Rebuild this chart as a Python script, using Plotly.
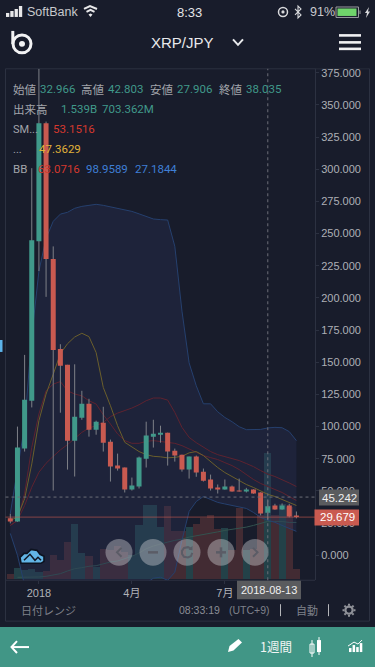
import pandas as pd
import plotly.graph_objects as go

dates = pd.date_range("2017-12-04", periods=41, freq="7D").strftime("%Y-%m-%d").tolist()

opens = [28.7,26.3,82.9,120,244,335.6,230.3,160.3,148,89,106.9,117.7,97.6,103,88.3,69.7,68.2,51.1,53.4,75.1,92.2,93.7,95.3,81.3,78.2,66.6,76.7,65,58.9,52.7,51.1,53.4,50.3,49.6,51.1,48.8,32.966,38.7,35.6,38.7,31]
highs = [32.3,100,155.7,300.8,378,337,240,164,148,148.4,127.8,121.6,104.6,115.4,89.9,79,68.2,60.4,76.7,103.8,105.3,100.7,95.3,82.9,78.2,76.7,77.5,67.4,62.7,55,58.9,54.2,59.6,52.4,51.3,49,42.803,40,40.3,40,34]
lows = [24.8,26,80.6,114.9,220.8,200.8,50.3,110.8,66.6,61.2,105.3,92.2,93.7,80.6,57.3,65.8,48.8,50.3,51.9,68.2,83.7,87.5,69.7,72.8,65,59.6,61,57.3,50.3,48,51,49.4,49.5,48.8,47.8,31,27.906,35.4,35.4,29.5,28.7]
closes = [26.3,83.7,120.8,244.8,335.6,230.3,159.6,147.2,89,107.7,117.7,97.6,103.8,87.5,68.9,67.4,51.1,54.2,75.9,93,94.5,95.3,80.6,77.5,66.6,76.7,64.3,58,51.9,51.1,53.4,49.6,49.6,51.1,48,32.5,38.035,35.6,38.7,30.2,29.679]

volumes_m = [61,133,118,121,85,97,291,230,448,667,315,279,145,364,352,400,327,291,655,897,897,630,885,582,582,630,675,739,776,606,618,352,861,352,364,776,1539,776,917,873,121]
volume_ma_m = [None,24,24,28,28,36,52,68,101,128,141,158,165,189,210,222,250,279,319,371,404,431,452,473,488,513,527,545,558,576,594,606,618,634,655,679,703.362,703,703,691,691]

bb_upper = [32.5,65.8,100.7,170.4,220.8,246.3,259.5,265.1,266.5,269.6,271.1,271.9,272.7,271.9,270.7,269.6,268.4,267.2,265.3,263.4,261.3,260.8,260.5,240.1,189.8,149.5,131.7,117.7,117.7,111.5,107.1,103.8,99.9,97.6,97.6,97.8,98.9589,99.4,99.1,96.1,89.1]
bb_lower = [17,0,-23.2,-64.3,-91.4,-103,-105.3,-101.5,-94.5,-89.1,-79.8,-74.4,-71.3,-65.1,-55.8,-48.8,-43.4,-38.7,-31,-21.7,-17.8,-17,-19.4,-13.2,11.6,34.1,41.8,45.7,43.4,41.1,39.9,38.7,38,36.4,33.3,29.4,27.1844,25.6,23.2,20.9,18.6]
bb_mid = [23.2,27.1,38.7,52.9,64.5,71.5,76.9,81.9,86,90.4,95.5,98.9,100.7,103.3,107.7,110.5,112.3,114.4,117,120.1,122.2,122.2,120.6,111,99.4,91.6,87.5,83.7,80.6,78.2,76.7,75.1,73.6,71.3,68.9,65.8,63.0716,61.2,58.9,56.2,53.4]
sma_red = [23.2,27.1,48,83.9,109.8,127.8,133,135,127.8,125.3,123.9,120.1,117.5,109.2,102,94.3,89.1,87,87,88.5,89.1,88.5,87.8,87,85.2,82.7,79.8,77.5,75.9,74.4,72,69.7,66.6,62.7,58.9,55.8,53.1516,51.1,48.8,45.7,42.6]
sma_olive = [27.1,29.7,43.9,71,104.6,125.3,140.7,156.7,164.4,169.6,172.5,169.9,157.5,130.4,116.2,100.7,87.8,83.9,80.6,78.2,76.9,76.5,75.7,76.1,76.9,79.6,80.6,77.5,72.8,68.2,64.3,61.2,58.1,55,52.7,50,47.3629,45.7,43.4,41.1,38.7]

x_tick_vals = ["2018-01-01", "2018-04-02", "2018-07-02"]
x_tick_text = ["2018", "4月", "7月"]
crosshair_date = "2018-08-13"
crosshair_price = 45.242
last_price = 29.679

BG = "#181c2b"
FRAME = "#2c3141"
GREEN = "#40998a"
RED = "#c95a50"
TXT = "#a2a4aa"
CJK = "Noto Sans CJK JP"
NUM = "Roboto"

fx = lambda x: x / 375
fy = lambda y: 1 - y / 667
shapes, annos = [], []

def rect(x0, y0, x1, y1, fill, line=None, lw=0, layer="above"):
    shapes.append(dict(type="rect", xref="paper", yref="paper", x0=fx(x0), x1=fx(x1), y0=fy(y0), y1=fy(y1),
                       fillcolor=fill, line=dict(color=line or "rgba(0,0,0,0)", width=lw), layer=layer))

def seg(x0, y0, x1, y1, color, lw=1, dash="solid", layer="above"):
    shapes.append(dict(type="line", xref="paper", yref="paper", x0=fx(x0), x1=fx(x1), y0=fy(y0), y1=fy(y1),
                       line=dict(color=color, width=lw, dash=dash), layer=layer))

def circ(cx, cy, r, fill, line=None, lw=0):
    shapes.append(dict(type="circle", xref="paper", yref="paper", x0=fx(cx - r), x1=fx(cx + r), y0=fy(cy - r), y1=fy(cy + r),
                       fillcolor=fill, line=dict(color=line or "rgba(0,0,0,0)", width=lw), layer="above"))

def poly(pts, fill="rgba(0,0,0,0)", line=None, lw=0, close=True):
    d = "M " + " L ".join(f"{fx(x):.5f},{fy(y):.5f}" for x, y in pts) + (" Z" if close else "")
    shapes.append(dict(type="path", xref="paper", yref="paper", path=d, fillcolor=fill,
                       line=dict(color=line or "rgba(0,0,0,0)", width=lw), layer="above"))

def text(x, y, s, color=TXT, size=11.5, font=NUM, anchor="left"):
    annos.append(dict(xref="paper", yref="paper", x=fx(x), y=fy(y), text=s, showarrow=False, xanchor=anchor,
                      yanchor="middle", borderpad=0, font=dict(color=color, size=size, family=font)))

# chart frame
rect(5.5, 67, 369.5, 621, "rgba(0,0,0,0)", FRAME, 1, layer="below")
seg(5.5, 580, 315, 580, FRAME, 1, layer="below")
# hides the part of the top tick label that falls outside the frame
rect(316, 60, 368.5, 66.5, BG)

# status bar
for i, h in enumerate([4, 6, 8, 11]):
    rect(6 + i * 4.3, 15 - h, 9.3 + i * 4.3, 15, "#e8e8ea")
text(26, 10.5, "SoftBank", "#c8c9cd", 12.5, "Liberation Sans")
text(189, 10.5, "8:33", "#e4e5e8", 13, "Liberation Sans", "center")
poly([(84, 7), (90, 4), (97, 7)], line="#e8e8ea", lw=2, close=False)
poly([(86.5, 10), (90.5, 8), (94.5, 10)], line="#e8e8ea", lw=2, close=False)
poly([(88.5, 12.5), (90.5, 11.5), (92.5, 12.5), (90.5, 15)], fill="#e8e8ea")
circ(283, 10, 4.5, "rgba(0,0,0,0)", "#d8d9dc", 1.5)
circ(283, 10, 1.6, "#d8d9dc")
poly([(295, 7), (301, 13), (298, 16), (298, 4), (301, 7), (295, 13)], line="#d8d9dc", lw=1.1, close=False)
text(309, 10.5, "91%", "#c8c9cd", 12.5, "Liberation Sans")
rect(336, 5, 358.5, 15.5, "rgba(0,0,0,0)", "#9a9ba0", 1)
rect(337.5, 6.5, 356.5, 14, "#6fd46b")
rect(359.5, 8.5, 360.5, 12, "#9a9ba0")
poly([(369, 5), (365, 11), (367, 11), (366, 16), (370, 9.5), (368, 9.5)], fill="#d8d9dc")

# header
circ(22, 42, 9, "rgba(0,0,0,0)", "#f2f2f4", 3)
circ(22, 42, 3, "#f2f2f4")
seg(12.8, 29, 12.8, 42, "#f2f2f4", 3)
text(182.5, 40.5, "XRP/JPY", "#e8e9ec", 15, "Liberation Sans", "center")
poly([(233, 37.5), (238, 43), (243, 37.5)], line="#e8e9ec", lw=2, close=False)
for y in (33.5, 40.5, 47):
    seg(339, y, 361, y, "#f0f0f2", 2.6)

# legend rows
row1 = [(11.5, "始値", TXT, CJK), (38.5, "32.966", GREEN, NUM), (80, "高値", TXT, CJK), (107, "42.803", GREEN, NUM),
        (149, "安値", TXT, CJK), (176, "27.906", GREEN, NUM), (218, "終値", TXT, CJK), (245, "38.035", GREEN, NUM)]
for x, s, c, f in row1:
    text(x, 87.5, s, c, 11.5, f)
text(11.5, 107.5, "出来高", TXT, 11.5, CJK)
text(60, 107.5, "1.539B", GREEN, 11.5)
text(101, 107.5, "703.362M", GREEN, 11.5)
text(11.5, 127.5, "SM...", TXT, 11)
text(52, 127.5, "53.1516", "#d5382e", 11.5)
text(11.5, 147.5, "...", TXT, 11)
text(38, 147.5, "47.3629", "#e0b23a", 11.5)
text(11.5, 167.5, "BB", TXT, 11.5)
text(37, 167.5, "63.0716", "#d5382e", 11.5)
text(85, 167.5, "98.9589", "#3f7fd6", 11.5)
text(133.5, 167.5, "27.1844", "#3f7fd6", 11.5)

# side tab
rect(0, 339, 2.5, 351, "#5cb3ea")

# price tags
rect(319, 489, 359, 505, "#5a5b5e")
text(339, 497, f"{crosshair_price:.3f}", "#eeeeee", 11.5, "Liberation Sans", "center")
rect(314.5, 509, 359, 525, RED)
text(337.5, 517, f"{last_price:.3f}", "#ffffff", 11.5, "Liberation Sans", "center")
rect(237, 580.5, 301, 599, "#5a5b5e")
text(269, 590, crosshair_date, "#f0f0f0", 11, "Liberation Sans", "center")

# cloud icon
poly([(21, 563), (20, 557), (24, 553), (27, 553), (31, 549), (37, 550), (40, 554), (44, 556), (44, 561), (41, 563)],
     fill="#62b5e6", line="#0d1320", lw=1.6)
poly([(24, 560), (30, 554), (35, 560), (38, 557), (41, 560)], line="#101624", lw=1.5, close=False)

# navigation buttons
BTN = "rgba(205,205,210,0.42)"
GLY = "#5b5c66"
for cx in (119, 153, 187, 221, 255):
    circ(cx, 552, 13.5, BTN)
poly([(121.5, 547.5), (117, 552), (121.5, 556.5)], line=GLY, lw=2, close=False)
seg(148, 552, 158, 552, GLY, 2.5)
poly([(191.5, 548.5), (188, 546.8), (184, 547.6), (182, 550.5), (182, 553.5), (184, 556.5), (188, 557.2), (191, 555.8), (192.3, 552.5)],
     line=GLY, lw=2, close=False)
poly([(192.5, 545.5), (192.5, 550), (188.5, 549.5)], fill=GLY)
seg(216, 552, 226, 552, GLY, 2.5)
seg(221, 547, 221, 557, GLY, 2.5)
poly([(253, 547.5), (257.5, 552), (253, 556.5)], line=GLY, lw=2, close=False)

# bottom row of the frame
text(20, 610, "日付レンジ", "#7f818a", 11, CJK)
text(178, 610, "08:33:19", "#8b8d95", 10.5, "Liberation Sans")
text(228, 610, "(UTC+9)", "#7f818a", 10.5, "Liberation Sans")
seg(280.5, 604, 280.5, 616, "#b5b6ba", 1)
text(295, 610, "自動", "#7f818a", 11, CJK)
seg(328.5, 604, 328.5, 616, "#b5b6ba", 1)
circ(349, 610, 3.6, "rgba(0,0,0,0)", "#8f9198", 2.2)
seg(349, 603.5, 349, 616.5, "#8f9198", 2, dash="2px,9px")
seg(342.5, 610, 355.5, 610, "#8f9198", 2, dash="2px,9px")
seg(344.4, 605.4, 353.6, 614.6, "#8f9198", 2, dash="2px,9px")
seg(344.4, 614.6, 353.6, 605.4, "#8f9198", 2, dash="2px,9px")

# action bar
rect(0, 627, 375, 667, "#419686")
poly([(17, 641), (11.5, 647), (17, 653)], line="#ffffff", lw=2, close=False)
seg(12, 647, 29, 647, "#ffffff", 2)
poly([(228, 652), (229.5, 646), (238.5, 639), (242, 642.5), (233.5, 650.5)], fill="#ffffff")
text(259, 646.5, "1週間", "#f2f5f4", 12.5, CJK)
rect(310, 644, 314, 653, "rgba(0,0,0,0)", "#ffffff", 1)
seg(312, 640, 312, 657, "#ffffff", 1)
rect(317, 640, 321, 652, "#ffffff")
seg(319, 637, 319, 655, "#ffffff", 1)
for i, h in enumerate([4, 7, 5, 9]):
    rect(349 + i * 3.6, 652 - h, 351.5 + i * 3.6, 652, "#ffffff")
poly([(348, 646), (354, 642), (358, 644), (362, 640)], line="#ffffff", lw=1, close=False)

# data-anchored guide lines
shapes.append(dict(type="line", xref="x", yref="paper", x0=crosshair_date, x1=crosshair_date, y0=fy(580), y1=fy(67),
                   line=dict(color="#6d6f78", width=1, dash="3px,3px"), layer="above"))
shapes.append(dict(type="line", xref="paper", yref="y2", x0=fx(5.5), x1=fx(315), y0=crosshair_price, y1=crosshair_price,
                   line=dict(color="#6d6f78", width=1, dash="3px,3px"), layer="above"))
shapes.append(dict(type="line", xref="paper", yref="y2", x0=fx(5.5), x1=fx(315), y0=last_price, y1=last_price,
                   line=dict(color="rgba(201,90,80,0.6)", width=1), layer="above"))

fig = go.Figure()

# volume
vol_colors = ["rgba(64,153,138,0.30)" if c >= o else "rgba(201,90,80,0.24)" for o, c in zip(opens, closes)]
fig.add_trace(go.Bar(x=dates, y=volumes_m, marker=dict(color=vol_colors, line=dict(width=0)), yaxis="y", xaxis="x"))
fig.add_trace(go.Scatter(x=dates, y=volume_ma_m, mode="lines", line=dict(color="#33534f", width=1), yaxis="y"))

# Bollinger band
fig.add_trace(go.Scatter(x=dates, y=bb_lower, mode="lines", line=dict(color="#26406e", width=1), yaxis="y2"))
fig.add_trace(go.Scatter(x=dates, y=bb_upper, mode="lines", line=dict(color="#26406e", width=1), yaxis="y2",
                         fill="tonexty", fillcolor="rgba(44,52,92,0.33)"))
fig.add_trace(go.Scatter(x=dates, y=bb_mid, mode="lines", line=dict(color="#5e2330", width=1), yaxis="y2"))
fig.add_trace(go.Scatter(x=dates, y=sma_red, mode="lines", line=dict(color="#5e2330", width=1), yaxis="y2"))
fig.add_trace(go.Scatter(x=dates, y=sma_olive, mode="lines", line=dict(color="#6b5f2c", width=1), yaxis="y2"))

# wicks
wx, wy = [], []
for d, h, l in zip(dates, highs, lows):
    wx += [d, d, None]
    wy += [l, h, None]
fig.add_trace(go.Scatter(x=wx, y=wy, mode="lines", line=dict(color="#7e8087", width=1), yaxis="y2"))

# candle bodies
fig.add_trace(go.Candlestick(
    x=dates, open=opens, close=closes,
    high=[max(o, c) for o, c in zip(opens, closes)],
    low=[min(o, c) for o, c in zip(opens, closes)],
    increasing=dict(fillcolor=GREEN, line=dict(color=GREEN, width=0)),
    decreasing=dict(fillcolor=RED, line=dict(color=RED, width=0)),
    yaxis="y3",
))

dom = [fy(580), fy(67)]
price_range = [-19.4, 378]
fig.update_layout(
    width=375, height=667, margin=dict(l=0, r=0, t=0, b=0), autosize=False,
    paper_bgcolor=BG, plot_bgcolor=BG, showlegend=False, hovermode=False, bargap=0, boxgap=0.3, boxgroupgap=0,
    dragmode=False,
    xaxis=dict(domain=[fx(5.5), fx(315)], type="date", range=["2017-11-29 07:00", "2018-09-28 05:00"],
               tickvals=x_tick_vals, ticktext=x_tick_text, ticks="outside", ticklen=3, tickcolor=FRAME,
               tickfont=dict(color="#b0b2b8", size=11, family="Liberation Sans, " + CJK), showgrid=False,
               zeroline=False, showline=False, rangeslider=dict(visible=False), fixedrange=True),
    yaxis=dict(domain=dom, range=[-12, 6206], visible=False, fixedrange=True),
    yaxis2=dict(domain=dom, overlaying="y", side="right", anchor="x", range=price_range, tick0=0, dtick=25,
                tickformat=".3f", ticks="outside", ticklen=3, tickcolor=FRAME, showline=True, linecolor=FRAME,
                tickfont=dict(color="#aeb0b6", size=11, family="Liberation Sans"), showgrid=False, zeroline=False,
                fixedrange=True),
    yaxis3=dict(domain=dom, overlaying="y", range=price_range, visible=False, fixedrange=True),
    shapes=shapes, annotations=annos,
)

fig.write_html("out.html", config=dict(displayModeBar=False, staticPlot=True),
               post_script="document.body.style.margin='0';document.body.style.background='#181c2b';")
